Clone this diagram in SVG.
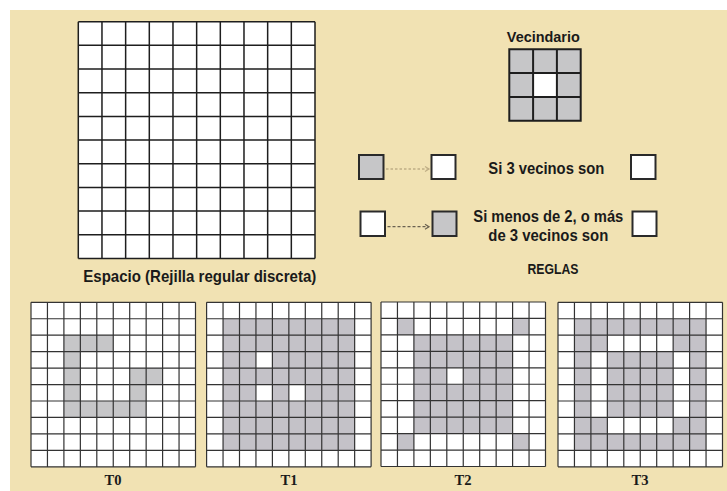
<svg xmlns="http://www.w3.org/2000/svg" xmlns:xlink="http://www.w3.org/1999/xlink" width="727" height="491" viewBox="0 0 727 491">
<style>
.lbl{font-family:"Liberation Sans",Arial,sans-serif;font-weight:bold;font-size:16px;fill:#1a1a1a;text-anchor:middle}
.tl{font-family:"Liberation Serif","Times New Roman",serif;font-weight:bold;font-size:14px;fill:#1a1a1a;text-anchor:middle}
.gl{fill:none;stroke:#1e1e1e;stroke-width:1.5}
.tgl{fill:none;stroke:#333333;stroke-width:1.2}
.w{fill:#ffffff}
.g{fill:#c6c6c8}
.g2{fill:#c4c2c8}
.sq{stroke:#2a2a2a;stroke-width:2}
.arr1{fill:none;stroke:#bfae86;stroke-width:1.3;stroke-dasharray:2.5 2}
.arr2{fill:none;stroke:#6a6150;stroke-width:1.3;stroke-dasharray:3 2}
</style>
<defs>
<path id="mgl" class="gl" d="M0 0H236.7M0 23.67H236.7M0 47.34H236.7M0 71.01H236.7M0 94.68H236.7M0 118.35H236.7M0 142.02H236.7M0 165.69H236.7M0 189.36H236.7M0 213.03H236.7M0 236.7H236.7M0 0V236.7M23.67 0V236.7M47.34 0V236.7M71.01 0V236.7M94.68 0V236.7M118.35 0V236.7M142.02 0V236.7M165.69 0V236.7M189.36 0V236.7M213.03 0V236.7M236.7 0V236.7"/>
<path id="tgl" class="tgl" d="M0 0H164.5M0 16.45H164.5M0 32.9H164.5M0 49.35H164.5M0 65.8H164.5M0 82.25H164.5M0 98.7H164.5M0 115.15H164.5M0 131.6H164.5M0 148.05H164.5M0 164.5H164.5M0 0V164.5M16.45 0V164.5M32.9 0V164.5M49.35 0V164.5M65.8 0V164.5M82.25 0V164.5M98.7 0V164.5M115.15 0V164.5M131.6 0V164.5M148.05 0V164.5M164.5 0V164.5"/>
<marker id="ah1" markerWidth="8" markerHeight="8" refX="5" refY="4" orient="auto" markerUnits="userSpaceOnUse">
<polyline points="1,1.5 5,4 1,6.5" fill="none" stroke="#bfae86" stroke-width="1.2"/>
</marker>
<marker id="ah2" markerWidth="8" markerHeight="8" refX="5" refY="4" orient="auto" markerUnits="userSpaceOnUse">
<polyline points="1,1.5 5,4 1,6.5" fill="none" stroke="#6a6150" stroke-width="1.2"/>
</marker>
</defs>
<rect x="0" y="0" width="727" height="491" fill="#ffffff"/>
<rect x="10" y="10" width="717" height="481" fill="#f1e2b3"/>

<g id="espacio">
<g transform="translate(78.3,21.7)">
<rect class="w" x="0" y="0" width="236.7" height="236.7"/>
<use href="#mgl"/>
</g>
<text class="lbl" x="199.8" y="281.5" style="font-size:16.5px" textLength="233" lengthAdjust="spacingAndGlyphs">Espacio (Rejilla regular discreta)</text>
</g>

<g id="vecindario">
<text class="lbl" x="543.3" y="41.5" style="font-size:14.5px" textLength="73" lengthAdjust="spacingAndGlyphs">Vecindario</text>
<g transform="translate(509.3,49.3)">
<rect class="g" x="0" y="0" width="71.4" height="71.4"/>
<rect class="w" x="23.8" y="23.8" width="23.8" height="23.8"/>
<path class="gl" style="stroke-width:2" d="M0 0H71.4V71.4H0ZM23.8 0V71.4M47.6 0V71.4M0 23.8H71.4M0 47.6H71.4"/>
</g>
</g>

<g id="regla1">
<rect id="r1-from" class="g sq" x="359" y="155" width="24.5" height="24"/>
<rect id="r1-to" class="w sq" x="431.5" y="155" width="24" height="24"/>
<text class="lbl" x="546.3" y="174" textLength="116" lengthAdjust="spacingAndGlyphs">Si 3 vecinos son</text>
<rect class="w sq" x="631" y="155" width="24.5" height="24"/>
</g>

<g id="regla2">
<rect id="r2-from" class="w sq" x="360.5" y="211.5" width="24.5" height="24.5"/>
<rect id="r2-to" class="g sq" x="432.5" y="211.5" width="24" height="24.5"/>
<text class="lbl" x="548.3" y="221.5" textLength="150" lengthAdjust="spacingAndGlyphs">Si menos de 2, o más</text>
<text class="lbl" x="548.3" y="241" textLength="120" lengthAdjust="spacingAndGlyphs">de 3 vecinos son</text>
<rect class="w sq" x="632.5" y="211.5" width="24" height="24.5"/>
</g>

<g id="reglas">
<text class="lbl" x="553" y="274" style="font-size:15px" textLength="51" lengthAdjust="spacingAndGlyphs">REGLAS</text>
</g>

<g id="connectors">
<line class="arr1" x1="386" y1="169" x2="429" y2="169" marker-end="url(#ah1)"/>
<line class="arr2" x1="387.5" y1="226.7" x2="429" y2="226.7" marker-end="url(#ah2)"/>
</g>

<g id="t0">
<g transform="translate(31,302.3)">
<rect class="w" x="0" y="0" width="164.5" height="164.5"/>
<rect class="g" x="32.9" y="32.9" width="49.35" height="16.45"/>
<rect class="g" x="32.9" y="49.35" width="16.45" height="65.8"/>
<rect class="g" x="98.7" y="65.8" width="32.9" height="16.45"/>
<rect class="g" x="98.7" y="82.25" width="16.45" height="16.45"/>
<rect class="g" x="49.35" y="98.7" width="65.8" height="16.45"/>
<use href="#tgl"/>
</g>
<text class="tl" x="113" y="485" textLength="17" lengthAdjust="spacingAndGlyphs">T0</text>
</g>

<g id="t1">
<g transform="translate(206.6,302.3)">
<rect class="w" x="0" y="0" width="164.5" height="164.5"/>
<rect class="g2" x="16.45" y="16.45" width="131.6" height="131.6"/>
<rect class="w" x="49.35" y="49.35" width="16.45" height="16.45"/>
<rect class="w" x="49.35" y="82.25" width="16.45" height="16.45"/>
<rect class="w" x="82.25" y="82.25" width="16.45" height="16.45"/>
<use href="#tgl"/>
</g>
<text class="tl" x="289" y="485" textLength="17" lengthAdjust="spacingAndGlyphs">T1</text>
</g>

<g id="t2">
<g transform="translate(381,302)">
<rect class="w" x="0" y="0" width="164.5" height="164.5"/>
<rect class="g2" x="32.9" y="32.9" width="98.7" height="98.7"/>
<rect class="w" x="65.8" y="65.8" width="16.45" height="16.45"/>
<rect class="g2" x="16.45" y="16.45" width="16.45" height="16.45"/>
<rect class="g2" x="131.6" y="16.45" width="16.45" height="16.45"/>
<rect class="g2" x="16.45" y="131.6" width="16.45" height="16.45"/>
<rect class="g2" x="131.6" y="131.6" width="16.45" height="16.45"/>
<use href="#tgl"/>
</g>
<text class="tl" x="463" y="485" textLength="17" lengthAdjust="spacingAndGlyphs">T2</text>
</g>

<g id="t3">
<g transform="translate(558,302.3)">
<rect class="w" x="0" y="0" width="164.5" height="164.5"/>
<rect class="g2" x="16.45" y="16.45" width="131.6" height="131.6"/>
<rect class="w" x="49.35" y="32.9" width="65.8" height="16.45"/>
<rect class="w" x="49.35" y="115.15" width="65.8" height="16.45"/>
<rect class="w" x="32.9" y="49.35" width="16.45" height="65.8"/>
<rect class="w" x="115.15" y="49.35" width="16.45" height="65.8"/>
<use href="#tgl"/>
</g>
<text class="tl" x="640" y="485" textLength="17" lengthAdjust="spacingAndGlyphs">T3</text>
</g>
</svg>
